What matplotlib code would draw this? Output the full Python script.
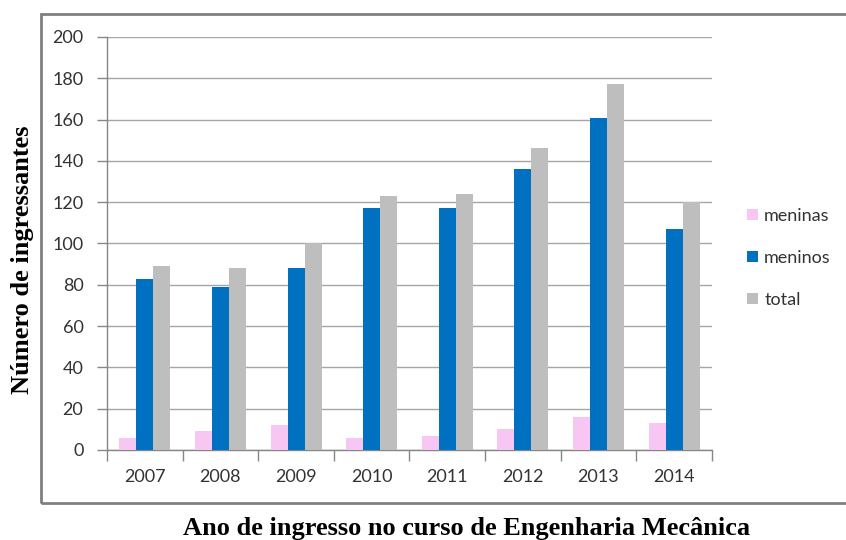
import matplotlib
matplotlib.use("Agg")
import matplotlib.pyplot as plt
import numpy as np
from matplotlib.patches import Rectangle

anos = ["2007", "2008", "2009", "2010", "2011", "2012", "2013", "2014"]
meninas = [6, 9, 12, 6, 7, 10, 16, 13]
meninos = [83, 79, 88, 117, 117, 136, 161, 107]
total = [89, 88, 100, 123, 124, 146, 177, 120]

series_names = ["meninas", "meninos", "total"]
cores = ["#F8C6F2", "#0070C0", "#BEBEBE"]

fig = plt.figure(figsize=(8.46, 5.40), dpi=100)
ax = fig.add_axes([0.1265, 0.1667, 0.7150, 0.7648])

x = np.arange(len(anos))
w = 0.225
for i, (vals, nome, cor) in enumerate(zip([meninas, meninos, total], series_names, cores)):
    ax.bar(x + (i - 1) * w, vals, width=w, color=cor, label=nome, zorder=3)

ax.set_xlim(-0.5, len(anos) - 0.5)
ax.set_ylim(0, 200)
ax.yaxis.grid(True, color="#A6A6A6", linewidth=1.0, zorder=0)
ax.set_axisbelow(True)

tick_font = "Lato"
ax.set_yticks(np.arange(0, 201, 20))
ax.set_yticklabels([str(v) for v in range(0, 201, 20)], fontsize=13, family=tick_font, color="#333333")
ax.set_xticks(x)
ax.set_xticklabels(anos, fontsize=13, family=tick_font, color="#333333")
ax.tick_params(axis="x", length=0, pad=14)
ax.tick_params(axis="y", length=7, color="#868686", width=1, pad=10)

# category separators on the x axis
ax.set_xticks(np.arange(-0.5, len(anos), 1), minor=True)
ax.tick_params(axis="x", which="minor", length=8, color="#868686", width=1)

for s in ["top", "right"]:
    ax.spines[s].set_visible(False)
for s in ["left", "bottom"]:
    ax.spines[s].set_color("#868686")
    ax.spines[s].set_linewidth(1.0)

ax.set_ylabel("Número de ingressantes", family="Liberation Serif", fontweight="bold",
              fontsize=19, color="black")
ax.yaxis.set_label_coords(-0.12, 0.46)

fig.text(0.552, 0.010, "Ano de ingresso no curso de Engenharia Mecânica",
         family="Liberation Serif", fontweight="bold", fontsize=19, ha="center", va="baseline")

leg = ax.legend(loc="center left", bbox_to_anchor=(1.046, 0.465), frameon=False,
                prop={"family": tick_font, "size": 13}, handlelength=0.6, handleheight=0.6,
                handletextpad=0.35, labelspacing=1.45, borderaxespad=0)
for t in leg.get_texts():
    t.set_color("#333333")

# outer chart frame
fig.add_artist(Rectangle((41 / 846, 37 / 540), 1.0, (503 - 14) / 540,
                         transform=fig.transFigure, fill=False,
                         edgecolor="#808080", linewidth=2.0))

fig.savefig("out.png", dpi=100)
